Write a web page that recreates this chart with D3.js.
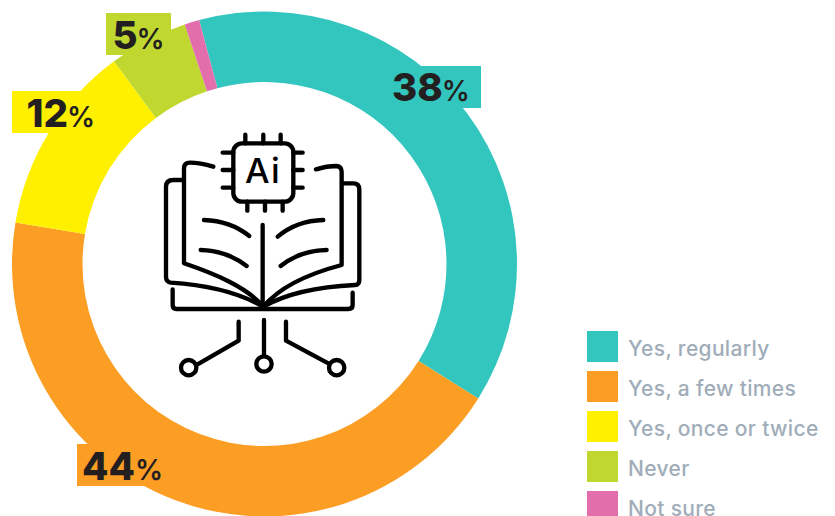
<!DOCTYPE html>
<html><head><meta charset="utf-8">
<script src="https://cdnjs.cloudflare.com/ajax/libs/d3/7.8.5/d3.min.js"></script>
<style>html,body{margin:0;padding:0;background:#fff;overflow:hidden}svg{display:block}</style>
</head><body><div id="chart"></div>
<script>
const categories = ["Yes, regularly","Yes, a few times","Yes, once or twice","Never","Not sure"];
const values = [38.1,43.7,12.2,5.05,0.95];
const colors = ["#33c6bf","#fc9d24","#fff000","#c0d72f","#e26fab"];
const W=835,H=516,cx=264.5,cy=264,R=252.5,r=182;
const svg=d3.select("#chart").append("svg").attr("width",W).attr("height",H);
const font="Inter, 'Open Sans', sans-serif";
const color=d3.scaleOrdinal(categories,colors);
const pie=d3.pie().sort(null).value(d=>d.v).startAngle(-15*Math.PI/180).endAngle(345*Math.PI/180);
const arc=d3.arc().innerRadius(r).outerRadius(R);
const rows=categories.map((c,i)=>({c,v:values[i]}));
svg.append("g").attr("transform",`translate(${cx},${cy})`).selectAll("path").data(pie(rows)).join("path")
  .attr("d",arc).attr("fill",d=>color(d.data.c));

// value labels: box and text placement per labelled slice
const labelBoxes=[
 {i:0,x:392,y:66,w:89,tx:392,ty:101,pad:-1},
 {i:1,x:77,y:444,w:92,tx:82,ty:480,pad:0},
 {i:2,x:12,y:91,w:88,tx:26.5,ty:127,pad:-1},
 {i:3,x:106,y:13,w:65,tx:112.5,ty:49,pad:-1}
];
const lab=svg.append("g").selectAll("g").data(labelBoxes).join("g");
lab.append("rect").attr("x",d=>d.x).attr("y",d=>d.y).attr("width",d=>d.w).attr("height",42).attr("fill",d=>colors[d.i]);
const t=lab.append("text").attr("x",d=>d.tx).attr("y",d=>d.ty).attr("font-family",font).attr("fill","#231f20");
t.append("tspan").attr("font-size",38.5).attr("font-weight",800).text(d=>Math.round(values[d.i]));
t.append("tspan").attr("font-size",28).attr("font-weight",600).attr("dx",d=>d.pad).text("%");

// legend
const leg=svg.append("g").selectAll("g").data(categories).join("g").attr("transform",(d,i)=>`translate(587,${331+i*40})`);
leg.append("rect").attr("width",31).attr("height",31).attr("fill",d=>color(d));
leg.append("text").attr("x",41).attr("y",25).attr("font-family",font).attr("font-size",21).attr("letter-spacing",0.33).attr("font-weight",500).attr("fill","#a0adb9").text(d=>d);

// centre icon
const icon=svg.append("g").attr("transform","translate(150,130) scale(0.3333)")
  .attr("fill","none").attr("stroke","#000").attr("stroke-width",13).attr("stroke-linecap","round").attr("stroke-linejoin","round");
icon.append("rect").attr("x",250).attr("y",40).attr("width",180).attr("height",175).attr("rx",26);
const pins=["M286,14V40","M340,14V40","M392,14V40","M292,215V242","M345,215V242","M398,215V242",
 "M218,68H250","M218,120H250","M218,173H250","M430,68H458","M430,120H458","M430,173H458"];
const book=["M100,150H70Q48,150 48,170V440Q48,455 62,458C170,465 270,490 340,530",
 "M190,110Q150,98 120,98Q102,98 102,115V400C190,430 290,470 340,530",
 "M498,118Q530,108 560,108Q575,110 575,125V405C480,430 390,470 340,530",
 "M580,160H610Q628,160 628,178V450Q628,465 615,465C510,470 410,490 340,530",
 "M338,285V530","M68,478V525Q68,537 80,537H595Q608,537 608,525V488",
 "M162,270Q240,272 298,318","M152,360Q230,362 290,408","M520,270Q440,272 383,320","M530,360Q450,362 392,408",
 "M266,575V632L140,705","M342,570V678","M408,575V632L535,700"];
icon.selectAll("path").data(pins.concat(book)).join("path").attr("d",d=>d);
icon.selectAll("circle").data([[116,713],[342,702],[560,713]]).join("circle").attr("cx",d=>d[0]).attr("cy",d=>d[1]).attr("r",23);
icon.append("text").attr("x",339).attr("y",158).attr("text-anchor","middle").attr("font-family",font).attr("font-size",104).attr("font-weight",500).attr("letter-spacing",4).attr("fill","#000").attr("stroke","none").text("Ai");
</script></body></html>
